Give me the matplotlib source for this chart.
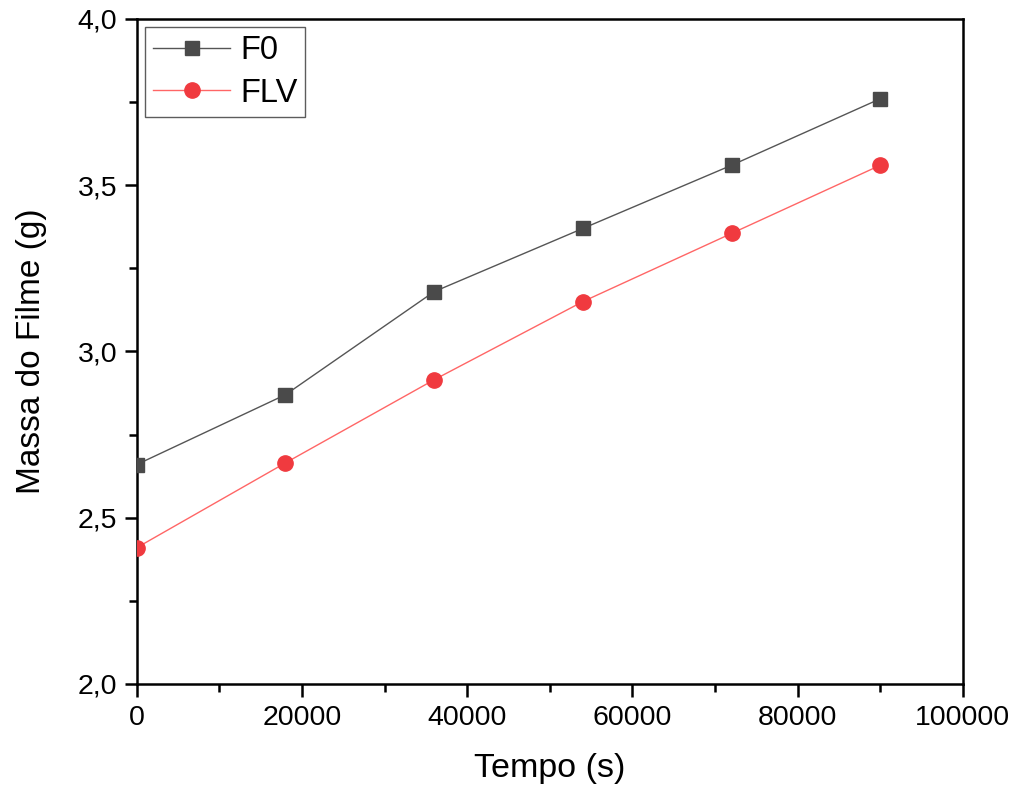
import matplotlib
matplotlib.use("Agg")
import matplotlib.pyplot as plt
from matplotlib.ticker import MultipleLocator, FuncFormatter

plt.rcParams['font.family'] = ['Liberation Sans', 'DejaVu Sans']

tempo = [0, 18000, 36000, 54000, 72000, 90000]
f0 = [2.66, 2.87, 3.18, 3.37, 3.56, 3.76]
flv = [2.41, 2.665, 2.915, 3.15, 3.355, 3.56]

fig = plt.figure(figsize=(10.21, 7.91), dpi=100)
ax = fig.add_axes([0.134, 0.1353, 0.809, 0.8407])

ax.plot(tempo, f0, color='#555555', lw=1.0, marker='s', ms=10,
        markerfacecolor='#4a4a4a', markeredgecolor='#4a4a4a', label='F0', zorder=3)
ax.plot(tempo, flv, color='#ff6666', lw=1.0, marker='o', ms=11,
        markerfacecolor='#f03a3f', markeredgecolor='#f03a3f', label='FLV', zorder=3)

ax.set_xlim(0, 100000)
ax.set_ylim(2.0, 4.0)
ax.xaxis.set_major_locator(MultipleLocator(20000))
ax.xaxis.set_minor_locator(MultipleLocator(10000))
ax.yaxis.set_major_locator(MultipleLocator(0.5))
ax.yaxis.set_minor_locator(MultipleLocator(0.25))
ax.yaxis.set_major_formatter(FuncFormatter(lambda v, p: f"{v:.1f}".replace('.', ',')))
ax.xaxis.set_major_formatter(FuncFormatter(lambda v, p: f"{int(v)}"))

for s in ax.spines.values():
    s.set_linewidth(1.8)
ax.tick_params(which='major', direction='out', length=9, width=1.8, labelsize=20.5, pad=6)
ax.tick_params(which='minor', direction='out', length=5.5, width=1.8)
ax.tick_params(axis='y', which='major', pad=5)

ax.set_xlabel('Tempo (s)', fontsize=24.5, labelpad=16)
ax.set_ylabel('Massa do Filme (g)', fontsize=24, labelpad=22)

leg = ax.legend(loc='upper left', fontsize=23.5, frameon=True, fancybox=False,
                edgecolor='#333333', borderaxespad=0.25, handlelength=2.36,
                borderpad=0.25, labelspacing=0.35, handletextpad=0.3)
leg.get_frame().set_linewidth(1.0)

fig.savefig('out.png', dpi=100, facecolor='white')
